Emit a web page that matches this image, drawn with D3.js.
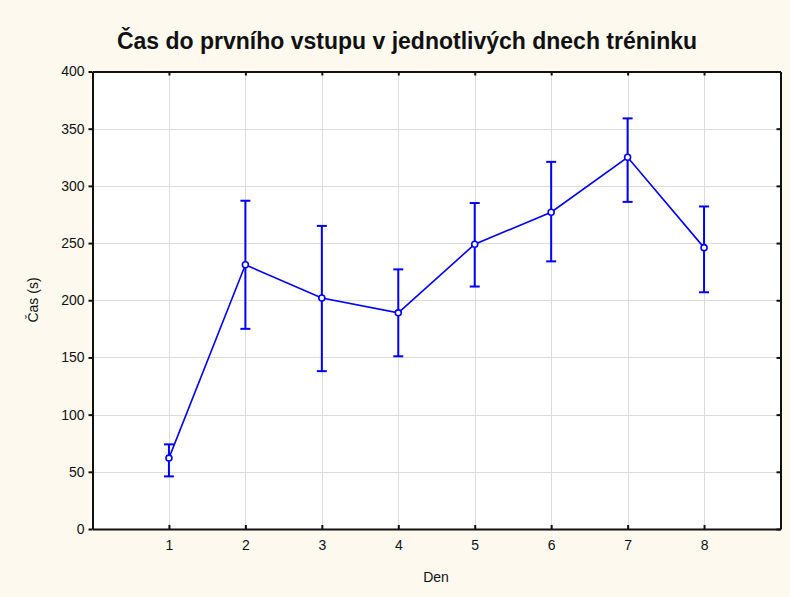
<!DOCTYPE html>
<html>
<head>
<meta charset="utf-8">
<script src="https://cdn.jsdelivr.net/npm/d3@7"></script>
<style>
  body { margin: 0; background: #fdf9ef; }
  svg { display: block; font-family: "Liberation Sans", Arial, sans-serif; }
</style>
</head>
<body>
<div id="chart"></div>
<script>
// data
const days = [1, 2, 3, 4, 5, 6, 7, 8];
const means = [62, 231, 202, 189, 249, 277, 325, 246];
const upper = [74, 287, 265, 227, 285, 321, 359, 282];
const lower = [46, 175, 138, 151, 212, 234, 286, 207];
const yTicks = [0, 50, 100, 150, 200, 250, 300, 350, 400];

const width = 790;
const height = 597;
const marginTop = 71.5;
const marginRight = 9.5;
const marginBottom = 68;
const marginLeft = 92.5;

const x = d3.scaleLinear()
  .domain([0, 9])
  .range([marginLeft, width - marginRight]);

const y = d3.scaleLinear()
  .domain([0, 400])
  .range([height - marginBottom, marginTop]);

const svg = d3.select("#chart")
  .append("svg")
  .attr("width", width)
  .attr("height", height)
  .attr("viewBox", [0, 0, width, height]);

svg.append("rect")
  .attr("width", width).attr("height", height)
  .attr("fill", "#fdf9ef");

// plot area
svg.append("rect")
  .attr("x", marginLeft).attr("y", marginTop)
  .attr("width", width - marginRight - marginLeft)
  .attr("height", height - marginBottom - marginTop)
  .attr("fill", "#fff");

// grid
svg.append("g")
  .attr("stroke", "#dcdcdc")
  .selectAll("line.h")
  .data(yTicks.slice(1, -1))
  .join("line")
  .attr("x1", marginLeft).attr("x2", width - marginRight)
  .attr("y1", d => Math.round(y(d)) + 0.5).attr("y2", d => Math.round(y(d)) + 0.5);

svg.append("g")
  .attr("stroke", "#dcdcdc")
  .selectAll("line")
  .data(days)
  .join("line")
  .attr("x1", d => Math.round(x(d)) + 0.5).attr("x2", d => Math.round(x(d)) + 0.5)
  .attr("y1", marginTop).attr("y2", height - marginBottom);

// axes
const xAxis = d3.axisBottom(x).tickValues(days).tickSizeInner(-4).tickSizeOuter(0).tickPadding(11);
const xAxisTop = d3.axisTop(x).tickValues(days).tickSizeInner(-4).tickSizeOuter(0).tickFormat("");
const yAxis = d3.axisLeft(y).tickValues(yTicks).tickSizeInner(4).tickSizeOuter(0).tickPadding(4);
const yAxisRight = d3.axisRight(y).tickValues(yTicks).tickSizeInner(-4).tickSizeOuter(0).tickFormat("");

function styleAxis(g) {
  g.select(".domain").attr("stroke", "#111").attr("stroke-width", 2);
  g.selectAll(".tick line").attr("stroke", "#111").attr("stroke-width", 2);
  g.selectAll(".tick text").attr("fill", "#111").attr("font-size", 14);
}

svg.append("g")
  .attr("transform", `translate(0,${height - marginBottom})`)
  .call(xAxis).call(styleAxis);
svg.append("g")
  .attr("transform", `translate(0,${marginTop})`)
  .call(xAxisTop).call(styleAxis);
svg.append("g")
  .attr("transform", `translate(${marginLeft},0)`)
  .call(yAxis).call(styleAxis);
svg.append("g")
  .attr("transform", `translate(${width - marginRight},0)`)
  .call(yAxisRight).call(styleAxis);

// error bars
const blue = "#0000ff";
const cap = 5;
const bars = svg.append("g")
  .attr("stroke", blue)
  .attr("stroke-width", 2)
  .selectAll("g")
  .data(days)
  .join("g");

bars.append("line")
  .attr("x1", (d) => x(d)).attr("x2", (d) => x(d))
  .attr("y1", (d, i) => y(upper[i])).attr("y2", (d, i) => y(lower[i]));
bars.append("line")
  .attr("x1", (d) => x(d) - cap).attr("x2", (d) => x(d) + cap)
  .attr("y1", (d, i) => y(upper[i])).attr("y2", (d, i) => y(upper[i]));
bars.append("line")
  .attr("x1", (d) => x(d) - cap).attr("x2", (d) => x(d) + cap)
  .attr("y1", (d, i) => y(lower[i])).attr("y2", (d, i) => y(lower[i]));

// mean line
const line = d3.line()
  .x((d) => x(d))
  .y((d, i) => y(means[i]));

svg.append("path")
  .datum(days)
  .attr("fill", "none")
  .attr("stroke", blue)
  .attr("stroke-width", 1.6)
  .attr("d", line);

svg.append("g")
  .selectAll("circle")
  .data(days)
  .join("circle")
  .attr("cx", (d) => x(d))
  .attr("cy", (d, i) => y(means[i]))
  .attr("r", 3)
  .attr("fill", "#fff")
  .attr("stroke", blue)
  .attr("stroke-width", 1.6);

// labels
svg.append("text")
  .attr("x", 407).attr("y", 49)
  .attr("text-anchor", "middle")
  .attr("font-size", 23)
  .attr("font-weight", "bold")
  .attr("fill", "#111")
  .text("Čas do prvního vstupu v jednotlivých dnech tréninku");

svg.append("text")
  .attr("x", 436).attr("y", 582)
  .attr("text-anchor", "middle")
  .attr("font-size", 14)
  .attr("fill", "#111")
  .text("Den");

svg.append("text")
  .attr("transform", "translate(38,300) rotate(-90)")
  .attr("text-anchor", "middle")
  .attr("font-size", 14)
  .attr("fill", "#111")
  .text("Čas (s)");
</script>
</body>
</html>
